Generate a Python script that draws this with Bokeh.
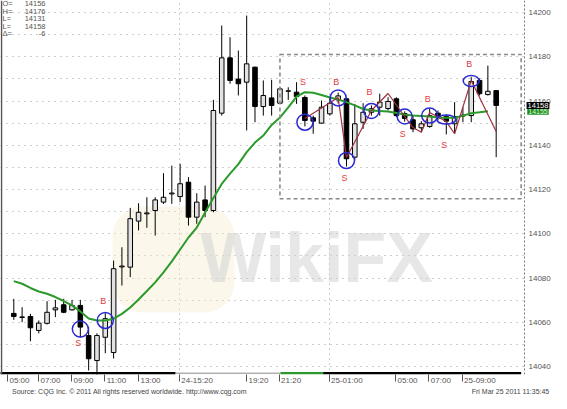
from bokeh.plotting import figure
from bokeh.models import (ColumnDataSource, FixedTicker, Range1d, Label, Span,
                          BoxAnnotation, BasicTickFormatter, LinearAxis)
from bokeh.core.properties import value
from bokeh.embed import file_html
from bokeh.resources import INLINE

# ---------------- data (30-minute bars) ----------------
bar_index = list(range(1, 60))
open_ = [14064.0, 14062.4, 14062.6, 14056.3, 14059.5, 14065.6, 14067.9, 14065.6, 14067.6, 14054.0,
         14042.7, 14053.2, 14046.3, 14085.0, 14084.9, 14105.7, 14109.0, 14110.5, 14114.3, 14118.0,
         14116.8, 14123.3, 14107.5, 14115.3, 14110.5, 14154.5, 14179.5, 14169.9, 14168.5, 14175.3,
         14157.5, 14161.4, 14159.0, 14164.4, 14164.0, 14161.6, 14152.4, 14150.0, 14154.2, 14160.5,
         14161.0, 14134.6, 14150.4, 14154.9, 14157.2, 14156.6, 14161.0, 14154.3, 14151.5, 14147.9,
         14148.5, 14154.5, 14153.0, 14149.7, 14153.2, 14153.4, 14169.3, 14162.9, 14164.7]
high_ = [14070.6, 14066.8, 14063.8, 14060.8, 14069.5, 14070.1, 14070.6, 14070.1, 14070.1, 14057.8,
         14055.0, 14064.1, 14087.9, 14093.9, 14111.7, 14113.8, 14116.5, 14116.5, 14127.4, 14130.8,
         14131.6, 14125.6, 14118.3, 14121.8, 14160.5, 14194.1, 14188.8, 14182.8, 14198.6, 14175.5,
         14169.3, 14169.6, 14166.2, 14166.2, 14168.5, 14162.5, 14153.4, 14160.2, 14161.7, 14163.8,
         14161.7, 14158.7, 14159.0, 14158.0, 14163.3, 14161.7, 14161.7, 14155.3, 14153.4, 14150.9,
         14156.5, 14155.7, 14153.9, 14159.5, 14157.2, 14170.8, 14170.2, 14176.0, 14165.0]
low_ = [14061.1, 14060.0, 14051.4, 14055.0, 14059.0, 14062.3, 14064.1, 14065.3, 14053.2, 14038.2,
        14033.7, 14046.0, 14043.6, 14076.6, 14080.4, 14101.5, 14102.7, 14099.2, 14113.5, 14113.5,
        14114.3, 14103.7, 14104.5, 14107.5, 14109.7, 14153.4, 14167.8, 14162.5, 14146.7, 14150.4,
        14153.4, 14153.4, 14158.7, 14160.5, 14158.7, 14148.5, 14145.2, 14149.7, 14153.4, 14158.9,
        14130.4, 14133.1, 14147.4, 14153.4, 14153.4, 14155.7, 14152.7, 14150.7, 14145.9, 14145.9,
        14147.9, 14151.2, 14144.9, 14145.2, 14150.4, 14150.4, 14162.5, 14162.5, 14134.6]
close_ = [14062.6, 14062.2, 14057.5, 14059.6, 14064.5, 14066.5, 14064.5, 14067.6, 14057.8, 14043.5,
          14054.0, 14061.6, 14084.2, 14085.4, 14106.8, 14109.7, 14109.4, 14115.3, 14116.5, 14118.4,
          14122.6, 14107.5, 14114.3, 14110.5, 14155.7, 14179.5, 14169.3, 14167.8, 14176.8, 14157.5,
          14162.5, 14158.0, 14165.5, 14164.6, 14162.0, 14151.2, 14150.9, 14157.2, 14159.0, 14162.3,
          14133.9, 14149.7, 14154.9, 14156.5, 14159.5, 14159.8, 14153.4, 14152.1, 14147.4, 14149.7,
          14153.4, 14152.4, 14150.9, 14153.0, 14153.6, 14168.8, 14163.3, 14164.4, 14158.0]

ma_index = list(range(1, 59))
ma_value = [14078.6, 14077.4, 14075.5, 14073.9, 14072.9, 14071.4, 14069.6, 14067.6, 14064.9, 14061.7,
            14060.8, 14060.8, 14061.6, 14063.8, 14066.7, 14070.3, 14074.1, 14078.0, 14082.5, 14087.5,
            14092.9, 14098.3, 14102.8, 14109.6, 14116.2, 14122.5, 14127.2, 14131.5, 14136.9, 14141.2,
            14144.4, 14149.2, 14152.5, 14157.1, 14162.0, 14164.0, 14163.7, 14162.7, 14161.6, 14160.7,
            14159.5, 14158.0, 14156.4, 14155.7, 14155.5, 14155.3, 14154.6, 14153.9, 14153.4, 14153.2,
            14153.0, 14152.5, 14152.4, 14152.4, 14153.4, 14154.5, 14154.9, 14155.4]

swing_index = [36, 40, 41, 44, 46, 48, 49, 50, 51, 53, 54, 56, 59]
swing_price = [14152.1, 14161.6, 14134.5, 14155.7, 14163.4, 14153.0, 14148.0, 14145.9,
               14154.8, 14150.7, 14145.2, 14169.3, 14146.2]

signal_index = [9, 12, 36, 40, 41, 44, 48, 51, 53, 56]
signal_price = [14056.9, 14060.8, 14150.4, 14161.4, 14133.1, 14155.5, 14153.0, 14153.4, 14151.6, 14169.0]
signal_type = ["S", "B", "S", "B", "S", "B", "S", "B", "S", "B"]
signal_label_price = [14050.4, 14069.6, 14168.8, 14168.8, 14125.2, 14164.0, 14144.9, 14160.7,
                      14139.9, 14176.8]

box_left_index, box_right_index = 33, 62
box_bottom_price, box_top_price = 14115.8, 14181.0

session_start = [-2.0, 20.44, 33.06, 38.2]
session_end = [20.44, 33.06, 38.2, 62.0]

time_ticks = [0.24, 3.97, 7.94, 11.9, 16.0, 20.9, 28.98, 32.9, 38.9, 46.9, 50.9, 54.9]
time_labels = ["05:00", "07:00", "09:00", "11:00", "13:00", "24-15:20", "19:20", "21:20",
               "25-01:00", "05:00", "07:00", "25-09:00"]
date_lines = [20.9, 38.9]

price_ticks = [14040, 14060, 14080, 14100, 14120, 14140, 14160, 14180, 14200]
price_grid = [14040, 14050, 14060, 14070, 14080, 14090, 14100, 14110, 14120, 14130,
              14140, 14150, 14160, 14170, 14180, 14190, 14200]

legend_keys = ["O=", "H=", "L=", "L=", "\u0394="]
legend_vals = ["14156", "14176", "14131", "14158", "-6"]

source_text = "Source: CQG Inc. \u00a9 2011 All rights reserved worldwide. http://www.cqg.com"
stamp_text = "Fri Mar 25 2011 11:35:45"

# ---------------- layout ----------------
PX_X = 8.317          # pixels per bar
PX_Y = 2.2125         # pixels per price unit
W, FRAME_H, BOTTOM = 551, 374, 19
x_start = 1 - 13.3 / PX_X
x_end = x_start + W / PX_X
y_top = 14200 + 12 / PX_Y
y_start = y_top - FRAME_H / PX_Y
axis_x = x_start + 524 / PX_X     # dotted price-axis line
FONT = "Liberation Sans"

p = figure(frame_width=W, frame_height=FRAME_H,
           x_range=Range1d(x_start, x_end), y_range=Range1d(y_start, y_top),
           y_axis_location="right", toolbar_location=None, output_backend="svg",
           min_border_left=0, min_border_top=0, min_border_right=0, min_border_bottom=BOTTOM,
           outline_line_color=None, background_fill_color="white", border_fill_color="white")

# watermark
p.add_layout(BoxAnnotation(left=112, right=234, top=FRAME_H - 206, bottom=FRAME_H - 312,
                           left_units="screen", right_units="screen", top_units="screen",
                           bottom_units="screen", fill_color="#f6edd0", fill_alpha=0.42,
                           line_color=None, border_radius=30, level="underlay"))
p.add_layout(Label(x=316, y=FRAME_H - 257, x_units="screen", y_units="screen", text="WikiFX",
                   text_font=FONT, text_font_style="bold", text_font_size="70px",
                   text_color="#cfcfcf", text_alpha=0.5, text_align="center",
                   text_baseline="middle", level="underlay"))

# grids
p.ygrid.ticker = FixedTicker(ticks=price_grid)
p.ygrid.grid_line_color = "#9a9a9a"
p.ygrid.grid_line_dash = "1 5"
p.xgrid.ticker = FixedTicker(ticks=date_lines)
p.xgrid.grid_line_color = "#9a9a9a"
p.xgrid.grid_line_dash = "1 4"

# white strip behind the price labels (grid stops at the price axis)
p.add_layout(BoxAnnotation(left=axis_x, fill_color="white", fill_alpha=1, line_color=None,
                           level="underlay"))

# dashed consolidation box
p.add_layout(BoxAnnotation(left=box_left_index, right=box_right_index,
                           bottom=box_bottom_price, top=box_top_price,
                           fill_alpha=0, line_color="#8a8a8a", line_alpha=1,
                           line_dash="4 3", line_width=1.6))

# candles
up = [i for i in range(len(bar_index)) if close_[i] >= open_[i]]
dn = [i for i in range(len(bar_index)) if close_[i] < open_[i]]
p.segment(x0=bar_index, y0=low_, x1=bar_index, y1=high_, line_color="black", line_width=1)
p.vbar(x=[bar_index[i] for i in up], bottom=[open_[i] for i in up], top=[close_[i] for i in up],
       width=0.55, fill_color="#e2e2e2", line_color="black", line_width=1)
p.vbar(x=[bar_index[i] for i in dn], bottom=[close_[i] for i in dn], top=[open_[i] for i in dn],
       width=0.55, fill_color="black", line_color="black", line_width=1)

# moving average and swing line
p.line(ma_index, ma_value, line_color="#2b9a2b", line_width=2)
p.line(swing_index, swing_price, line_color="#9c3042", line_width=1.2)

# signal rings and letters
ring_w_px = [16, 16, 16, 16, 16, 15, 15, 16, 19, 16]
ring_h_px = [16, 16, 16, 16, 16, 15, 15, 15, 9, 11]
p.ellipse(x=signal_index, y=signal_price, width=[w / PX_X for w in ring_w_px],
          height=[h / PX_Y for h in ring_h_px], fill_color=None, line_color="#2a2ad4", line_width=1.5)
p.text(x=signal_index, y=signal_label_price, text=signal_type, text_font=value(FONT),
       text_font_size="9px", text_color="#e23a42", text_align="center", text_baseline="middle",
       x_offset=-2)

# session bar along the bottom
bar_y = y_start + 1.3 / PX_Y
sess = ColumnDataSource(dict(x0=session_start, x1=session_end,
                             c=["black", "#8a8a8a", "#2b9a2b", "black"], w=[2.6, 1.0, 2.6, 2.6]))
p.segment(x0="x0", x1="x1", y0=bar_y, y1=bar_y, line_color="c", line_width="w",
          line_cap="butt", source=sess)

# frame edges: left solid, price axis dotted
p.add_layout(Span(location=x_start + 0.12, dimension="height", line_color="#555555", line_width=1.5))
p.add_layout(Span(location=axis_x, dimension="height", line_color="#777777", line_width=1,
                  line_dash="2 2"))

# x axis: tick marks as minor ticks, labels centred just right of them
def label_width(s, size):
    em = {":": 0.278, "-": 0.333}
    return sum(em.get(ch, 0.556) for ch in s) * size

XFS = 8
label_centres = [round(t + (2 + label_width(s, XFS) / 2) / PX_X, 3) for t, s in zip(time_ticks, time_labels)]
xa = p.xaxis[0]
xa.ticker = FixedTicker(ticks=label_centres, minor_ticks=time_ticks)
xa.major_label_overrides = {c: s for c, s in zip(label_centres, time_labels)}
xa.major_tick_line_color = None
xa.major_tick_out = 0
xa.major_tick_in = 0
xa.minor_tick_line_color = "#555555"
xa.minor_tick_out = 7
xa.minor_tick_in = 0
xa.axis_line_color = None
xa.major_label_standoff = -6
xa.major_label_text_font = FONT
xa.major_label_text_font_size = f"{XFS}px"
xa.major_label_text_color = "#555555"

# footer line as a second, label-only axis
footer_pos = [round(x_start + 129 / PX_X, 3), round(x_start + 510 / PX_X, 3)]
fa = LinearAxis(ticker=FixedTicker(ticks=footer_pos),
                major_label_overrides={footer_pos[0]: source_text, footer_pos[1]: stamp_text},
                axis_line_color=None, major_tick_line_color=None, minor_tick_line_color=None,
                major_tick_out=0, major_tick_in=0, minor_tick_out=0, minor_tick_in=0,
                major_label_standoff=0, major_label_text_font=FONT,
                major_label_text_font_size="7px", major_label_text_color="#444444")
p.add_layout(fa, "below")

# price axis on the right; labels pulled back into the strip beside the dotted line
ya = p.yaxis[0]
ya.ticker = FixedTicker(ticks=price_ticks)
ya.formatter = BasicTickFormatter(use_scientific=False)
ya.axis_line_color = None
ya.major_tick_line_color = None
ya.minor_tick_line_color = None
ya.major_tick_in = 0
ya.major_tick_out = 0
ya.minor_tick_in = 0
ya.minor_tick_out = 0
ya.major_label_standoff = -23
ya.major_label_text_font = FONT
ya.major_label_text_font_size = "8px"
ya.major_label_text_color = "#555555"

# price badges (moving average, then last price)
badge_x = (axis_x + x_end) / 2
p.add_layout(Label(x=badge_x, y=ma_value[-1], text=f"{ma_value[-1]:.0f}", text_font=FONT,
                   text_font_size="7px", text_color="#d8ffd8", text_baseline="middle",
                   text_align="center", background_fill_color="#1f8a1f", padding=1))
p.add_layout(Label(x=badge_x, y=close_[-1], text=f"{close_[-1]:.0f}", text_font=FONT,
                   text_font_size="7.5px", text_color="white", text_baseline="middle",
                   text_align="center", background_fill_color="black", padding=1))

# OHLC readout, top left
legend_rows_y = [3.3, 11, 18.3, 25.7, 33.3]
for key, val, ry in zip(legend_keys, legend_vals, legend_rows_y):
    p.add_layout(Label(x=2, y=FRAME_H - ry, x_units="screen", y_units="screen", text=key,
                       text_font=FONT, text_font_size="7.5px", text_color="#555555",
                       text_baseline="middle"))
    p.add_layout(Label(x=45, y=FRAME_H - ry, x_units="screen", y_units="screen", text=val,
                       text_font=FONT, text_font_size="7.5px", text_color="#555555",
                       text_baseline="middle", text_align="right"))

open("out.html", "w").write(file_html(p, INLINE))
